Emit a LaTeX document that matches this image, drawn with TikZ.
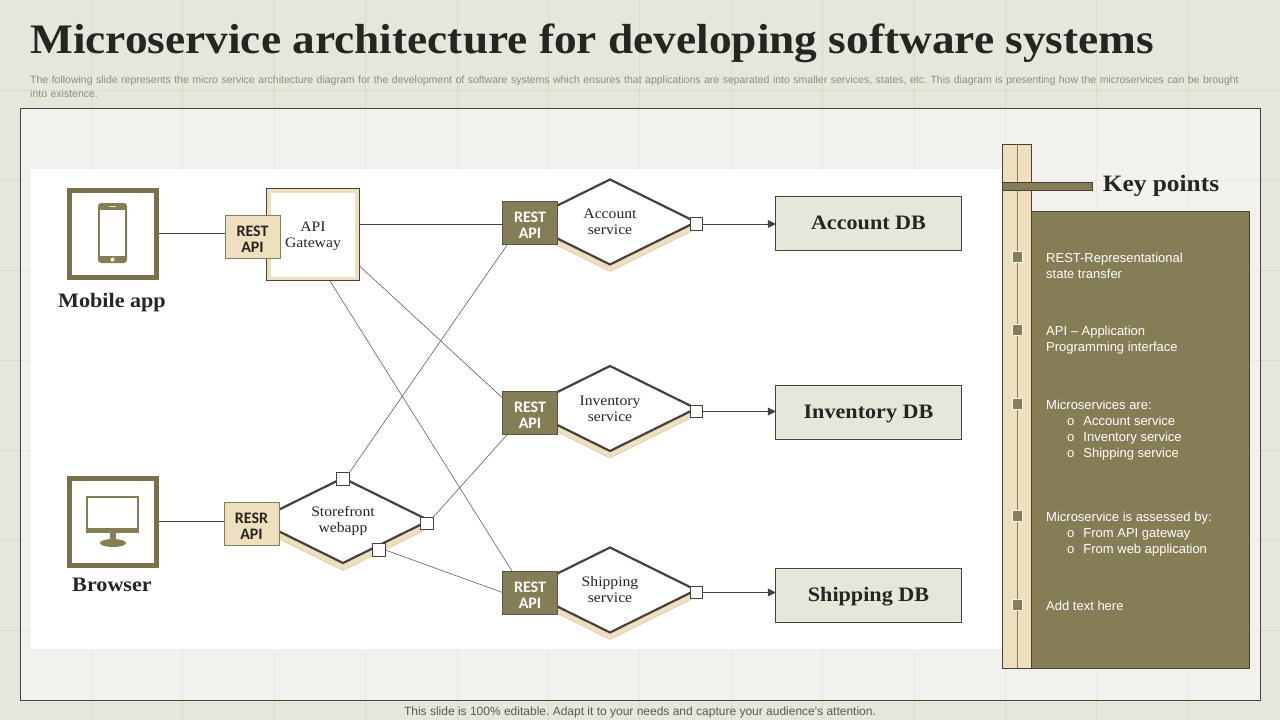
\documentclass[tikz,border=0pt]{standalone}
\usepackage{fontspec}
\newfontfamily\armfont{Liberation Sans}
\newfontfamily\calfont{Carlito}
\newfontfamily\headfont[FakeStretch=1.08]{Liberation Serif}
\usetikzlibrary{
  arrows.meta,
  shapes.geometric
}
\definecolor{slide}{HTML}{E6E6DA}
\definecolor{slideline}{HTML}{D9D9CC}
\definecolor{panel}{HTML}{F2F1ED}
\definecolor{panelline}{HTML}{E9E8E2}
\definecolor{olive}{HTML}{857D55}
\definecolor{cream}{HTML}{EEE0BE}
\definecolor{ink}{HTML}{45423A}
\definecolor{inktext}{HTML}{262522}
\newcommand{\fsz}[1]{\fontsize{#1}{#1}\selectfont}
\newcommand{\restlab}[2]{\rule{0pt}{15.5pt}#1\\#2}
\frenchspacing
\tikzset{
  framebox/.style={draw=olive!90!black, fill=white, line width=5, minimum size=87, inner sep=0, outer sep=2.5},
  restbox/.style={draw=olive, fill=cream, line width=.8, minimum width=55, minimum height=43, inner sep=0, outer sep=0,
    align=center, text=inktext, font=\calfont\bfseries\fontsize{16}{16}\selectfont},
  restdark/.style={restbox, fill=olive, draw=ink!70!olive, text=white},
  svcbox/.style={diamond, aspect=2, draw=ink, fill=white, line width=2.2, minimum width=172, minimum height=85, inner sep=0, outer sep=0,
    align=center, text=inktext, font=\headfont\fontsize{14.5}{16}\selectfont},
  svcshade/.style={diamond, aspect=2, draw=cream!80!olive, fill=cream, line width=.6, minimum width=172, minimum height=85, inner sep=0, outer sep=0},
  portbox/.style={draw=ink, fill=white, line width=.8, minimum size=12.5, inner sep=0, outer sep=0},
  dbbox/.style={draw=ink, fill=slide, line width=.8, minimum width=185.5, minimum height=54, inner sep=0, outer sep=0,
    text=inktext, font=\headfont\bfseries\fsz{20.5}, text height=14, text depth=.5},
  wire/.style={draw=ink, line width=.8},
  thinwire/.style={draw=ink!85, line width=.6},
  capbox/.style={text=inktext, font=\headfont\bfseries\fsz{20.5}, inner sep=0, text height=14, text depth=3},
  notebox/.style={anchor=north west, align=left, text=white, inner sep=0, font=\armfont\fontsize{13}{16}\selectfont},
  markbox/.style={draw=white!65!cream, fill=olive, line width=1.2, minimum size=10.5, inner sep=0, outer sep=0}
}
\begin{document}
\begin{tikzpicture}[x=1pt, y=-1pt]
\useasboundingbox (0,0) rectangle (1280,720);
\fill[slide] (0,0) rectangle (1280,720);
\foreach \gx in {1,...,13}
  \draw[slideline, line width=.7] ({91.4*\gx},0) -- ({91.4*\gx},720);
\foreach \gy in {1,...,7}
  \draw[slideline, line width=.7] (0,{90*\gy}) -- (1280,{90*\gy});
\draw[draw=ink, fill=panel, line width=1] (20.5,108.5) rectangle (1260.5,700);
\foreach \gx in {1,...,13}
  \draw[panelline, line width=.7] ({91.4*\gx},109) -- ({91.4*\gx},699.5);
\foreach \gy in {2,...,7}
  \draw[panelline, line width=.7] (21,{90*\gy}) -- (1260,{90*\gy});
\fill[white] (31,169) rectangle (1003,649);

\node[anchor=base west, inner sep=0, text=inktext, font=\headfont\bfseries\fsz{42}] (title) at (30,53) {Microservice architecture for developing software systems};
\node[anchor=north west, inner sep=0, text width=1240, align=left, text=black!45, font=\armfont\fontsize{10.5}{13.3}\selectfont] (intro) at (30,76)
  {The following slide represents the micro service architecture diagram for the development of software systems which ensures that applications are separated into smaller services, states, etc. This diagram is presenting how the microservices can be brought\\into existence.};
\node[inner sep=0, text=black!65, font=\armfont\fsz{12}] (footer) at (640,712) {This slide is 100\% editable. Adapt it to your needs and capture your audience's attention.};

\node[framebox] (mobile) at (113,233.5) {};
\fill[olive, rounded corners=3] (98,203) rectangle (127,263);
\fill[white] (100,210) rectangle (125,256);
\fill[cream] (109,206) rectangle (116,207.2);
\fill[white] (112.5,259.6) circle[radius=2];
\node[capbox] (mobiletxt) at (112,301.5) {Mobile app};

\node[framebox] (browser) at (113,521.5) {};
\fill[olive] (86,496) rectangle (139,533);
\fill[white] (88,498) rectangle (137,528);
\fill[olive] (110,533) rectangle (116,541);
\fill[olive] (113,543) circle[x radius=13, y radius=4];
\node[capbox] (browsertxt) at (112,585.5) {Browser};

\node[draw=ink, fill=cream, line width=.8, minimum size=92.5, inner sep=0, outer sep=0] (gw) at (313,234.5) {};
\node[fill=white, minimum size=84, inner sep=0, align=center, text=inktext, font=\headfont\fontsize{14.5}{16}\selectfont, text depth=0] (gwin) at (gw) {API\\Gateway};
\node[restbox] (restm) at (252.5,236.5) {\restlab{REST}{API}};

\node[svcshade] (frontshade) at (343,528) {};
\node[svcbox] (front) at (343,520.5) {Storefront\\webapp};
\node[restbox] (restb) at (251.5,523.5) {\restlab{RESR}{API}};
\node[portbox] (portn) at (343,479) {};
\node[portbox] (porte) at (427,523.5) {};
\node[portbox] (ports) at (379,550) {};

\foreach \nm/\sy/\ry/\py/\by/\stxt/\dtxt in {
  acc/222/222.5/224/223/{Account\\service}/{Account DB},
  inv/408.5/412.5/411.5/412/{Inventory\\service}/{Inventory DB},
  shp/590/592.5/592.5/595/{Shipping\\service}/{Shipping DB}
}{
  \node[svcshade] (\nm shade) at (610,\sy+7) {};
  \node[svcbox] (\nm) at (610,\sy) {\stxt};
  \node[restdark] (\nm rest) at (530,\ry) {\restlab{REST}{API}};
  \node[portbox] (\nm port) at (696.5,\py) {};
  \node[dbbox] (\nm db) at (868.5,\by) {\dtxt};
  \draw[wire, -{Stealth[length=8, width=8, inset=0]}] (\nm port.east) -- (\nm db.west |- \nm port.east);
}

\draw[wire] (mobile.east) -- (mobile.east -| restm.west);
\draw[wire] (browser.east) -- (browser.east -| restb.west);
\draw[wire] (gw.east |- accport.west) -- (accrest.west |- accport.west);
\draw[thinwire] (gw.-34) -- (invrest.152);
\draw[thinwire] (gw.-70) -- (shprest.130);
\draw[thinwire] (portn.north east) -- (accrest.224);
\draw[thinwire] (porte.north east) -- (invrest.224);
\draw[thinwire] (ports.east) -- (shprest.west);

\draw[draw=ink, fill=cream, line width=.8] (1002.5,144) rectangle (1031.5,668);
\draw[olive, line width=.8] (1017.5,144) -- (1017.5,668);
\draw[draw=ink, fill=olive, line width=.6] (1002.5,182) rectangle (1092,190);
\node[inner sep=0, text=inktext, font=\headfont\bfseries\fsz{23.5}, text height=16, text depth=3] (keytxt) at (1161,184.5) {Key points};
\draw[draw=ink, fill=olive, line width=1] (1031.5,211) rectangle (1249.5,668);

\foreach \mk/\my in {a/257,b/330,c/404,d/516,e/605}
  \node[markbox] (mark\mk) at (1017.5,\my) {};

\node[notebox] (notea) at (1046,253) {REST-Representational\\state transfer};
\node[notebox] (noteb) at (1046,326) {API – Application\\Programming interface};
\node[notebox] (notec) at (1046,400) {Microservices are:\\
  \hspace*{21pt}o\hspace{9pt}Account service\\
  \hspace*{21pt}o\hspace{9pt}Inventory service\\
  \hspace*{21pt}o\hspace{9pt}Shipping service};
\node[notebox] (noted) at (1046,512) {Microservice is assessed by:\\
  \hspace*{21pt}o\hspace{9pt}From API gateway\\
  \hspace*{21pt}o\hspace{9pt}From web application};
\node[notebox] (notee) at (1046,601) {Add text here};
\end{tikzpicture}
\end{document}
